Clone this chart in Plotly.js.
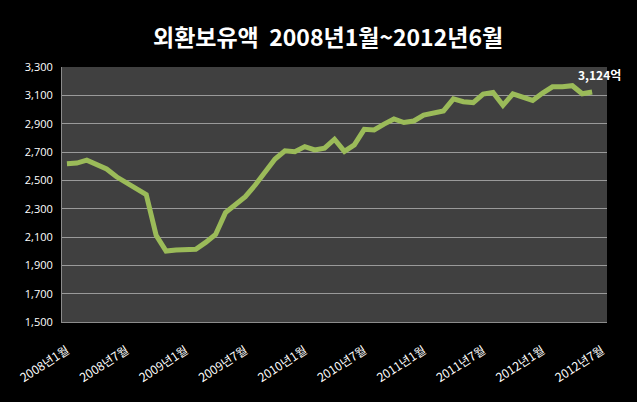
<!DOCTYPE html>
<html>
<head>
<meta charset="utf-8">
<script src="https://cdn.plot.ly/plotly-3.0.1.min.js"></script>
<style>html,body{margin:0;padding:0;background:#000;}#chart{width:637px;height:402px;}</style>
</head>
<body>
<div id="chart"></div>
<script>
// Monthly index: 0 = 2008-01 ... 53 = 2012-06 (unit: 억 달러)
const monthIndex = Array.from({length: 54}, (_, i) => i);
const reserves = [
  2617, 2622, 2642, 2608, 2580, 2525, 2480, 2440, 2400, 2112, 2001, 2008,
  2013, 2013, 2062, 2118, 2272, 2328, 2385, 2467, 2562, 2650, 2709, 2702,
  2738, 2715, 2727, 2790, 2704, 2750, 2860, 2856, 2897, 2933, 2908, 2919,
  2960, 2975, 2990, 3075, 3055, 3049, 3109, 3120, 3029, 3110, 3088, 3064,
  3116, 3160, 3160, 3168, 3111, 3124
];
const tickPositions = [0, 6, 12, 18, 24, 30, 36, 42, 48, 54];
const tickLabels = ['2008년1월','2008년7월','2009년1월','2009년7월','2010년1월','2010년7월','2011년1월','2011년7월','2012년1월','2012년7월'];
const yTicks = [1500, 1700, 1900, 2100, 2300, 2500, 2700, 2900, 3100, 3300];
const lastLabel = '3,124억';

const trace = {
  x: monthIndex, y: reserves, type: 'scatter', mode: 'lines',
  line: {color: '#9BBB59', width: 5},
  hoverinfo: 'skip'
};
const layout = {
  width: 637, height: 402,
  paper_bgcolor: '#000000', plot_bgcolor: '#404040',
  margin: {l: 62, r: 30, t: 67, b: 80},
  showlegend: false,
  title: {
    text: '외환보유액  2008년1월~2012년6월',
    font: {family: '"Noto Sans CJK KR", sans-serif', size: 23, color: '#ffffff', weight: 'bold'},
    x: 0.515, xanchor: 'center', y: 0.905, yanchor: 'middle'
  },
  xaxis: {
    range: [-0.5, 54.5], tickmode: 'array', tickvals: tickPositions, ticktext: tickLabels,
    tickangle: -33, showgrid: false, zeroline: false, ticks: '',
    showline: true, linecolor: '#8c8c8c', linewidth: 1,
    tickfont: {family: '"Noto Sans CJK KR", sans-serif', size: 12, color: '#ffffff'},
    ticklabelstandoff: 16
  },
  yaxis: {
    range: [1500, 3300], tickmode: 'array', tickvals: yTicks,
    tickformat: ',d', showgrid: true, gridcolor: '#9a9a9a', gridwidth: 1,
    zeroline: false, showline: true, linecolor: '#8c8c8c', linewidth: 1, ticks: '',
    tickfont: {family: '"Open Sans", sans-serif', size: 11, color: '#ffffff'},
    ticklabelstandoff: 6
  },
  annotations: [{
    x: monthIndex[monthIndex.length - 1], y: reserves[reserves.length - 1],
    xref: 'x', yref: 'y', text: lastLabel, showarrow: false,
    xshift: 7, yshift: 17,
    font: {family: '"Noto Sans CJK KR", sans-serif', size: 12, color: '#ffffff', weight: 'bold'}
  }]
};
Plotly.newPlot('chart', [trace], layout, {displayModeBar: false, staticPlot: true});
</script>
</body>
</html>
